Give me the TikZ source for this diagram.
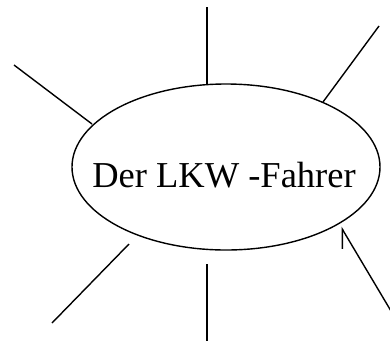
\documentclass[tikz,border=0pt]{standalone}
\usepackage{fontspec}
\setmainfont{Liberation Serif}
\usetikzlibrary{shapes.geometric,arrows.meta}
\begin{document}
\begin{tikzpicture}[x=1pt,y=-1pt,
  ray/.style={line width=1.4pt,line cap=butt},
  bubble/.style={draw,line width=1.4pt,ellipse,inner sep=0pt,minimum width=308pt,minimum height=166pt}]
\useasboundingbox (0,0) rectangle (390,341);
\node[bubble] (e) at (226,167) {};
\node[anchor=base,font=\fontsize{36.5}{40}\selectfont,inner sep=0pt] (t) at (224,187) {Der LKW -Fahrer};
% free ends
\coordinate (n1) at (207,7);
\coordinate (n2) at (207,84);
\coordinate (ul1) at (14,65);
\coordinate (ul2) at (92,124);
\coordinate (ur1) at (379,26);
\coordinate (ur2) at (323,102);
\coordinate (ll1) at (129,244);
\coordinate (ll2) at (52,323);
\coordinate (s1) at (207,264);
\coordinate (s2) at (207,341);
\coordinate (lr1) at (391,311);
\coordinate (lr2) at (341,227);
\draw[ray] (n1) -- (n2);
\draw[ray] (ul1) -- (ul2);
\draw[ray] (ur1) -- (ur2);
\draw[ray] (ll1) -- (ll2);
\draw[ray] (s1) -- (s2);
\draw[ray,-{Straight Barb[harpoon,length=17pt,width=20pt]}] (lr1) -- (lr2);
\end{tikzpicture}
\end{document}
